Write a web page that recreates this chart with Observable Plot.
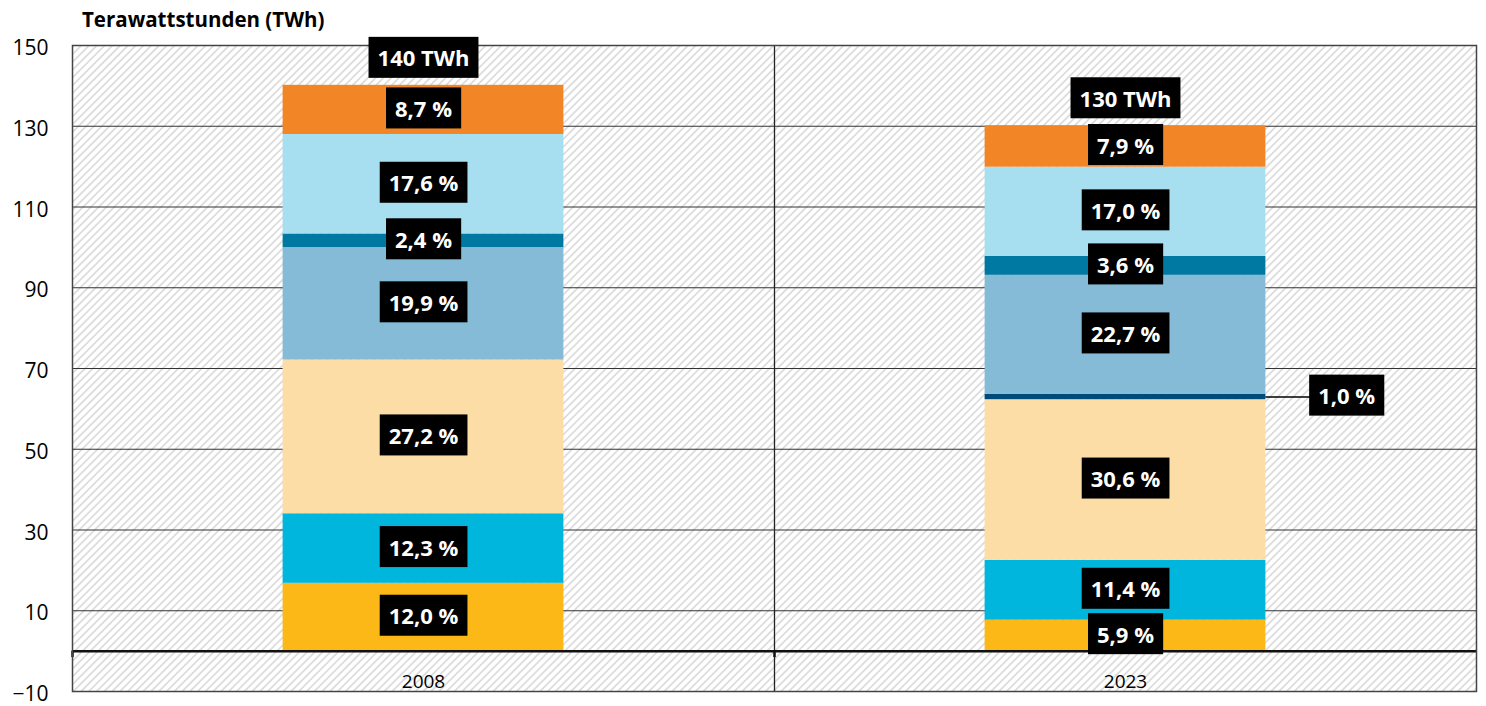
<!DOCTYPE html>
<html>
<head>
<meta charset="utf-8">
<script src="https://cdn.jsdelivr.net/npm/d3@7"></script>
<script src="https://cdn.jsdelivr.net/npm/@observablehq/plot@0.6"></script>
<style>
  body { margin: 0; background: #fff; font-family: 'Open Sans', sans-serif; position: relative; }
  #title { position: absolute; top: 9px; left: 82px;
           font-weight: bold; font-size: 20.5px; line-height: 20px; color: #000; }
  svg { display: block; }
</style>
</head>
<body>
<svg width="0" height="0" style="position:absolute">
  <defs>
    <pattern id="hatch" width="5.5" height="5.5" patternUnits="userSpaceOnUse" patternTransform="rotate(45)">
      <rect width="5.5" height="5.5" fill="#ffffff"></rect>
      <line x1="1" y1="0" x2="1" y2="5.5" stroke="#dadada" stroke-width="1.7"></line>
    </pattern>
  </defs>
</svg>
<div id="chart"></div>
<div id="title">Terawattstunden (TWh)</div>
<script>
// ---- data ----
const categories = ["2008", "2023"];
const totalsTWh = [140, 130];
const totalLabels = ["140 TWh", "130 TWh"];
const segmentColors = ["#FBB817", "#00B6DC", "#FDDDA6", "#004B7B", "#85BBD7", "#0079A2", "#A7DEF0", "#F28627"];
const shares2008 = [12.0, 12.3, 27.2, 0, 19.9, 2.4, 17.6, 8.7];
const shares2023 = [5.9, 11.4, 30.6, 1.0, 22.7, 3.6, 17.0, 7.9];
const yTicks = [-10, 10, 30, 50, 70, 90, 110, 130, 150];

// ---- layout constants (band geometry in x units) ----
const barHalf = 0.2;
const outsideGap = 0.115;

// ---- derived table ----
const sharesByCat = [shares2008, shares2023];
const segs = [];
const tops = [];
categories.forEach((cat, i) => {
  let cum = 0;
  sharesByCat[i].forEach((s, k) => {
    const v = s / 100 * totalsTWh[i];
    if (s > 0) {
      segs.push({
        cat, i, k, share: s,
        x1: i + 0.5 - barHalf, x2: i + 0.5 + barHalf,
        y1: cum, y2: cum + v, mid: cum + v / 2,
        color: segmentColors[k],
        label: s.toFixed(1).replace(".", ",") + " %",
        outside: s < 2
      });
    }
    cum += v;
  });
  tops.push({cat, i, x: i + 0.5, y: cum, label: totalLabels[i]});
});
const inside = segs.filter(d => !d.outside);
const outside = segs.filter(d => d.outside).map(d => ({...d, lx: d.x2 + outsideGap}));

const chart = Plot.plot({
  width: 1486,
  height: 706,
  marginTop: 45,
  marginBottom: 15,
  marginLeft: 72,
  marginRight: 10,
  x: {domain: [0, categories.length], axis: null},
  y: {domain: [-10, 150], axis: null},
  style: {fontFamily: "'Open Sans', sans-serif", color: "#000", background: "transparent"},
  marks: [
    Plot.frame({fill: "url(#hatch)"}),
    Plot.ruleY(yTicks.filter(t => t > -10 && t < 150), {stroke: "#333", strokeWidth: 1.2}),
    Plot.ruleX([1], {stroke: "#222", strokeWidth: 1.3}),
    Plot.rect(segs, {x1: "x1", x2: "x2", y1: "y1", y2: "y2", fill: "color"}),
    Plot.ruleY([0], {stroke: "#111", strokeWidth: 2.5}),
    Plot.ruleX([0, 1], {y1: 0, y2: -1.6, stroke: "#111", strokeWidth: 2.5}),
    Plot.frame({stroke: "#444", strokeWidth: 1.5}),
    Plot.axisY({ticks: yTicks, tickSize: 0, tickPadding: 24, fontSize: 21, dy: 3, label: null}),
    Plot.text(categories, {x: (d, i) => i + 0.5, y: -5, dy: 11, text: d => d, fontSize: 19, fill: "#000"}),
    Plot.ruleY(outside, {y: "mid", x1: "x2", x2: "lx", stroke: "#000", strokeWidth: 1.5}),
    Plot.text(inside, {x: d => d.i + 0.5, y: "mid", text: "label", fill: "white", fontWeight: "bold", fontSize: 22}),
    Plot.text(outside, {x: "lx", y: "mid", text: "label", fill: "white", fontWeight: "bold", fontSize: 22}),
    Plot.text(tops, {x: "x", y: "y", dy: -26, text: "label", fill: "white", fontWeight: "bold", fontSize: 22})
  ]
});
document.getElementById("chart").appendChild(chart);

// black boxes behind the white labels
chart.querySelectorAll('g[fill="white"] text').forEach(t => {
  const b = t.getBBox();
  const r = document.createElementNS("http://www.w3.org/2000/svg", "rect");
  const cy = b.y + b.height / 2;
  r.setAttribute("x", b.x - 9);
  r.setAttribute("width", b.width + 18);
  r.setAttribute("y", cy - 20.5);
  r.setAttribute("height", 41);
  r.setAttribute("fill", "#000");
  const tr = t.getAttribute("transform");
  if (tr) r.setAttribute("transform", tr);
  t.parentNode.insertBefore(r, t);
});
</script>
</body>
</html>
